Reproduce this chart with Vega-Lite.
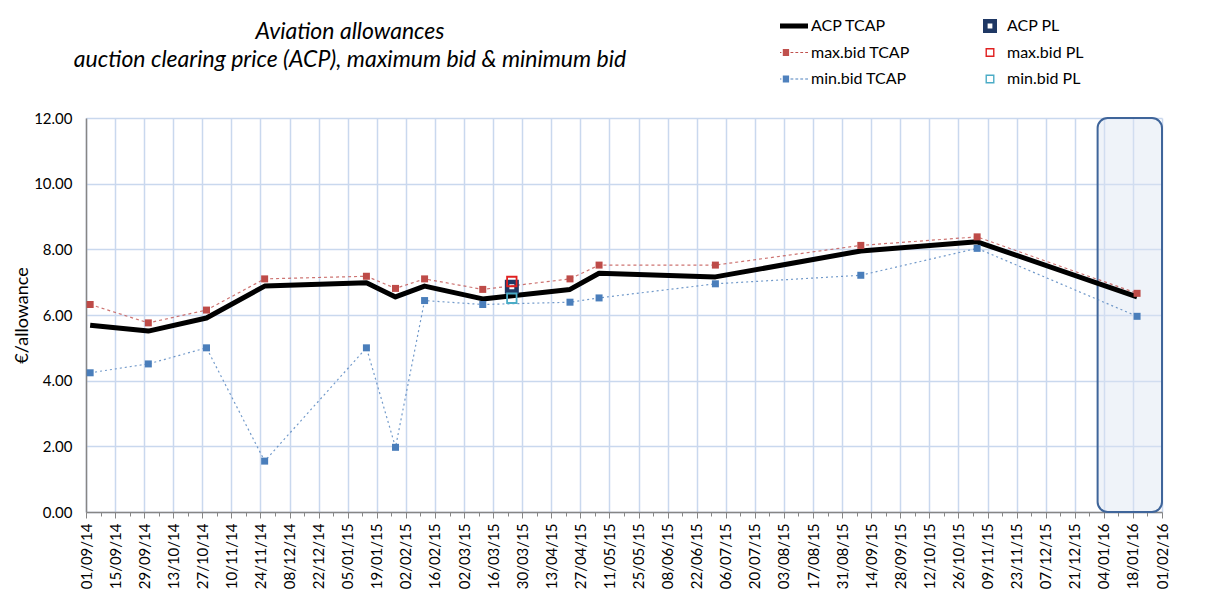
{
  "$schema": "https://vega.github.io/schema/vega-lite/v6.json",
  "width": 1076,
  "height": 394,
  "autosize": {"type": "none"},
  "padding": {"left": 86, "top": 118, "right": 44, "bottom": 98},
  "background": "white",
  "config": {
    "font": "Lato",
    "view": {"stroke": null},
    "axis": {"labelFont": "Lato", "titleFont": "Lato", "labelColor": "#000000", "titleColor": "#000000"}
  },
  "title": {
    "text": ["Aviation allowances", "auction clearing price (ACP), maximum bid & minimum bid"],
    "anchor": "start",
    "align": "center",
    "dx": 264,
    "dy": 60,
    "frame": "group",
    "offset": 0,
    "font": "Lato",
    "fontSize": 23,
    "fontStyle": "italic",
    "fontWeight": "normal",
    "lineHeight": 28,
    "color": "#000000"
  },
  "resolve": {"axis": {"x": "independent"}},
  "datasets": {
    "tcap": [
      {"date": "2014-09-03T00:00", "acp": 5.69, "max": 6.32, "min": 4.24},
      {"date": "2014-10-01T00:00", "acp": 5.51, "max": 5.76, "min": 4.51},
      {"date": "2014-10-29T00:00", "acp": 5.91, "max": 6.15, "min": 5.00},
      {"date": "2014-11-26T00:00", "acp": 6.88, "max": 7.10, "min": 1.55},
      {"date": "2015-01-14T00:00", "acp": 6.98, "max": 7.18, "min": 5.00},
      {"date": "2015-01-28T00:00", "acp": 6.55, "max": 6.81, "min": 1.97},
      {"date": "2015-02-11T00:00", "acp": 6.88, "max": 7.10, "min": 6.44},
      {"date": "2015-03-11T00:00", "acp": 6.49, "max": 6.78, "min": 6.32},
      {"date": "2015-04-22T00:00", "acp": 6.78, "max": 7.10, "min": 6.39},
      {"date": "2015-05-06T00:00", "acp": 7.27, "max": 7.52, "min": 6.52},
      {"date": "2015-07-01T00:00", "acp": 7.16, "max": 7.52, "min": 6.95},
      {"date": "2015-09-09T00:00", "acp": 7.95, "max": 8.12, "min": 7.21},
      {"date": "2015-11-04T00:00", "acp": 8.23, "max": 8.38, "min": 8.03},
      {"date": "2016-01-20T00:00", "acp": 6.55, "max": 6.66, "min": 5.96}
    ],
    "pl": [
      {"date": "2015-03-25T00:00", "acp": 6.86, "max": 7.02, "min": 6.51}
    ],
    "band": [
      {"start": "2016-01-01T00:00", "end": "2016-02-01T00:00", "low": 0, "high": 12}
    ]
  },
  "layer": [
    {
      "data": {"name": "band"},
      "mark": {"type": "rect", "cornerRadius": 10, "fill": "#dbe5f1", "fillOpacity": 0.45, "stroke": "#3f659a", "strokeWidth": 2},
      "encoding": {
        "x": {
          "field": "start", "type": "temporal",
          "scale": {"domain": [{"year": 2014, "month": 9, "date": 1}, {"year": 2016, "month": 2, "date": 1}], "nice": false},
          "axis": {
            "title": null,
            "orient": "bottom",
            "values": [
              {"year": 2014, "month": 9, "date": 1}, {"year": 2014, "month": 9, "date": 15}, {"year": 2014, "month": 9, "date": 29},
              {"year": 2014, "month": 10, "date": 13}, {"year": 2014, "month": 10, "date": 27},
              {"year": 2014, "month": 11, "date": 10}, {"year": 2014, "month": 11, "date": 24},
              {"year": 2014, "month": 12, "date": 8}, {"year": 2014, "month": 12, "date": 22},
              {"year": 2015, "month": 1, "date": 5}, {"year": 2015, "month": 1, "date": 19},
              {"year": 2015, "month": 2, "date": 2}, {"year": 2015, "month": 2, "date": 16},
              {"year": 2015, "month": 3, "date": 2}, {"year": 2015, "month": 3, "date": 16}, {"year": 2015, "month": 3, "date": 30},
              {"year": 2015, "month": 4, "date": 13}, {"year": 2015, "month": 4, "date": 27},
              {"year": 2015, "month": 5, "date": 11}, {"year": 2015, "month": 5, "date": 25},
              {"year": 2015, "month": 6, "date": 8}, {"year": 2015, "month": 6, "date": 22},
              {"year": 2015, "month": 7, "date": 6}, {"year": 2015, "month": 7, "date": 20},
              {"year": 2015, "month": 8, "date": 3}, {"year": 2015, "month": 8, "date": 17}, {"year": 2015, "month": 8, "date": 31},
              {"year": 2015, "month": 9, "date": 14}, {"year": 2015, "month": 9, "date": 28},
              {"year": 2015, "month": 10, "date": 12}, {"year": 2015, "month": 10, "date": 26},
              {"year": 2015, "month": 11, "date": 9}, {"year": 2015, "month": 11, "date": 23},
              {"year": 2015, "month": 12, "date": 7}, {"year": 2015, "month": 12, "date": 21},
              {"year": 2016, "month": 1, "date": 4}, {"year": 2016, "month": 1, "date": 18},
              {"year": 2016, "month": 2, "date": 1}
            ],
            "format": "%d/%m/%y",
            "labelAngle": 270,
            "labelFontSize": 15,
            "labelOverlap": false,
            "labelBound": false,
            "labelFlush": false,
            "labelPadding": 5,
            "grid": true,
            "gridColor": "#c9d8ee",
            "gridWidth": 1.5,
            "tickSize": 6,
            "tickColor": "#868686",
            "domainColor": "#868686",
            "domainWidth": 1.5
          }
        },
        "x2": {"field": "end"},
        "y": {
          "field": "low", "type": "quantitative",
          "scale": {"domain": [0, 12], "nice": false, "zero": true},
          "axis": {
            "title": "€/allowance",
            "values": [0, 1, 2, 3, 4, 5, 6, 7, 8, 9, 10, 11, 12],
            "labelExpr": "datum.value % 2 == 0 ? format(datum.value, '.2f') : ''",
            "labelFontSize": 15,
            "labelPadding": 14,
            "labelOverlap": false,
            "ticks": false,
            "grid": true,
            "gridColor": {"condition": {"test": "datum.value % 2 == 1", "value": "#c0c0c0"}, "value": "#c9d8ee"},
            "gridDash": {"condition": {"test": "datum.value % 2 == 1", "value": [4, 3]}, "value": []},
            "gridWidth": {"condition": {"test": "datum.value % 2 == 1", "value": 1}, "value": 1.5},
            "domainColor": "#868686",
            "domainWidth": 1.5,
            "titleFontSize": 18,
            "titleFontWeight": "normal",
            "titlePadding": 2
          }
        },
        "y2": {"field": "high"}
      }
    },
    {
      "data": {"name": "tcap"},
      "mark": {"type": "line", "color": "#c0504d", "strokeWidth": 1.2, "strokeDash": [3, 3], "opacity": 0.8},
      "encoding": {
        "x": {"field": "date", "type": "temporal", "axis": null},
        "y": {"field": "max", "type": "quantitative"}
      }
    },
    {
      "data": {"name": "tcap"},
      "mark": {"type": "line", "color": "#4f81bd", "strokeWidth": 1.2, "strokeDash": [2, 3], "opacity": 0.8},
      "encoding": {
        "x": {"field": "date", "type": "temporal", "axis": null},
        "y": {"field": "min", "type": "quantitative"}
      }
    },
    {
      "data": {"name": "tcap"},
      "mark": {"type": "line", "color": "#000000", "strokeWidth": 5, "strokeJoin": "round"},
      "encoding": {
        "x": {"field": "date", "type": "temporal", "axis": null},
        "y": {"field": "acp", "type": "quantitative"}
      }
    },
    {
      "data": {"name": "tcap"},
      "mark": {"type": "point", "shape": "square", "filled": true, "size": 49, "color": "#be4b48", "opacity": 1},
      "encoding": {
        "x": {"field": "date", "type": "temporal", "axis": null},
        "y": {"field": "max", "type": "quantitative"}
      }
    },
    {
      "data": {"name": "tcap"},
      "mark": {"type": "point", "shape": "square", "filled": true, "size": 49, "color": "#4a7ebb", "opacity": 1},
      "encoding": {
        "x": {"field": "date", "type": "temporal", "axis": null},
        "y": {"field": "min", "type": "quantitative"}
      }
    },
    {
      "data": {"name": "pl"},
      "mark": {"type": "point", "shape": "M-1,-1H1V1H-1Z M-0.35,-0.35V0.35H0.35V-0.35Z", "filled": true, "size": 196, "color": "#1f3864", "opacity": 1},
      "encoding": {
        "x": {"field": "date", "type": "temporal", "axis": null},
        "y": {"field": "acp", "type": "quantitative"}
      }
    },
    {
      "data": {"name": "pl"},
      "mark": {"type": "point", "shape": "square", "filled": false, "size": 90, "color": "#e02020", "strokeWidth": 1.8, "opacity": 1},
      "encoding": {
        "x": {"field": "date", "type": "temporal", "axis": null},
        "y": {"field": "max", "type": "quantitative"}
      }
    },
    {
      "data": {"name": "pl"},
      "mark": {"type": "point", "shape": "square", "filled": false, "size": 90, "color": "#4bacc6", "strokeWidth": 1.8, "opacity": 1},
      "encoding": {
        "x": {"field": "date", "type": "temporal", "axis": null},
        "y": {"field": "min", "type": "quantitative"}
      }
    },
    {
      "data": {"values": []},
      "mark": {"type": "point", "filled": true, "opacity": 1},
      "encoding": {
        "x": {
          "field": "date", "type": "temporal",
          "axis": {
            "title": null,
            "orient": "bottom",
            "values": [
              {"year": 2014, "month": 9, "date": 8}, {"year": 2014, "month": 9, "date": 22},
              {"year": 2014, "month": 10, "date": 6}, {"year": 2014, "month": 10, "date": 20},
              {"year": 2014, "month": 11, "date": 3}, {"year": 2014, "month": 11, "date": 17},
              {"year": 2014, "month": 12, "date": 1}, {"year": 2014, "month": 12, "date": 15}, {"year": 2014, "month": 12, "date": 29},
              {"year": 2015, "month": 1, "date": 12}, {"year": 2015, "month": 1, "date": 26},
              {"year": 2015, "month": 2, "date": 9}, {"year": 2015, "month": 2, "date": 23},
              {"year": 2015, "month": 3, "date": 9}, {"year": 2015, "month": 3, "date": 23},
              {"year": 2015, "month": 4, "date": 6}, {"year": 2015, "month": 4, "date": 20},
              {"year": 2015, "month": 5, "date": 4}, {"year": 2015, "month": 5, "date": 18},
              {"year": 2015, "month": 6, "date": 1}, {"year": 2015, "month": 6, "date": 15}, {"year": 2015, "month": 6, "date": 29},
              {"year": 2015, "month": 7, "date": 13}, {"year": 2015, "month": 7, "date": 27},
              {"year": 2015, "month": 8, "date": 10}, {"year": 2015, "month": 8, "date": 24},
              {"year": 2015, "month": 9, "date": 7}, {"year": 2015, "month": 9, "date": 21},
              {"year": 2015, "month": 10, "date": 5}, {"year": 2015, "month": 10, "date": 19},
              {"year": 2015, "month": 11, "date": 2}, {"year": 2015, "month": 11, "date": 16}, {"year": 2015, "month": 11, "date": 30},
              {"year": 2015, "month": 12, "date": 14}, {"year": 2015, "month": 12, "date": 28},
              {"year": 2016, "month": 1, "date": 11}, {"year": 2016, "month": 1, "date": 25}
            ],
            "labels": false,
            "grid": false,
            "domain": false,
            "tickSize": 4,
            "tickColor": "#868686",
            "tickWidth": 1
          }
        },
        "color": {
          "field": "series", "type": "nominal",
          "scale": {
            "domain": ["ACP TCAP", "max.bid TCAP", "min.bid TCAP", "ACP PL", "max.bid PL", "min.bid PL"],
            "range": ["#000000", "#c0504d", "#4f81bd", "#1f3864", "#e02020", "#4bacc6"]
          },
          "legend": {
            "title": null,
            "orient": "none",
            "legendX": 694,
            "legendY": -106,
            "columns": 2,
            "columnPadding": 66,
            "rowPadding": 4.5,
            "padding": 0,
            "symbolSize": 784,
            "symbolStrokeWidth": 0,
            "symbolOpacity": 1,
            "labelFont": "Lato",
            "labelFontSize": 16,
            "labelColor": "#000000",
            "labelOffset": 3,
            "labelLimit": 300
          }
        },
        "shape": {
          "field": "series", "type": "nominal",
          "scale": {
            "domain": ["ACP TCAP", "max.bid TCAP", "min.bid TCAP", "ACP PL", "max.bid PL", "min.bid PL"],
            "range": [
              "M-1,-0.18H1V0.18H-1Z",
              "M-1,-0.04H-0.9V0.04H-1Z M-0.8,-0.25H-0.35V0.25H-0.8Z M-0.25,-0.04H-0.05V0.04H-0.25Z M0.1,-0.04H0.3V0.04H0.1Z M0.45,-0.04H0.65V0.04H0.45Z M0.8,-0.04H1V0.04H0.8Z",
              "M-1,-0.04H-0.9V0.04H-1Z M-0.8,-0.25H-0.35V0.25H-0.8Z M-0.25,-0.04H-0.05V0.04H-0.25Z M0.1,-0.04H0.3V0.04H0.1Z M0.45,-0.04H0.65V0.04H0.45Z M0.8,-0.04H1V0.04H0.8Z",
              "M-0.5,-0.5H0.5V0.5H-0.5Z M-0.17,-0.17V0.17H0.17V-0.17Z",
              "M-0.32,-0.32H0.32V0.32H-0.32Z M-0.22,-0.22V0.22H0.22V-0.22Z",
              "M-0.32,-0.32H0.32V0.32H-0.32Z M-0.22,-0.22V0.22H0.22V-0.22Z"
            ]
          }
        }
      }
    }
  ]
}
